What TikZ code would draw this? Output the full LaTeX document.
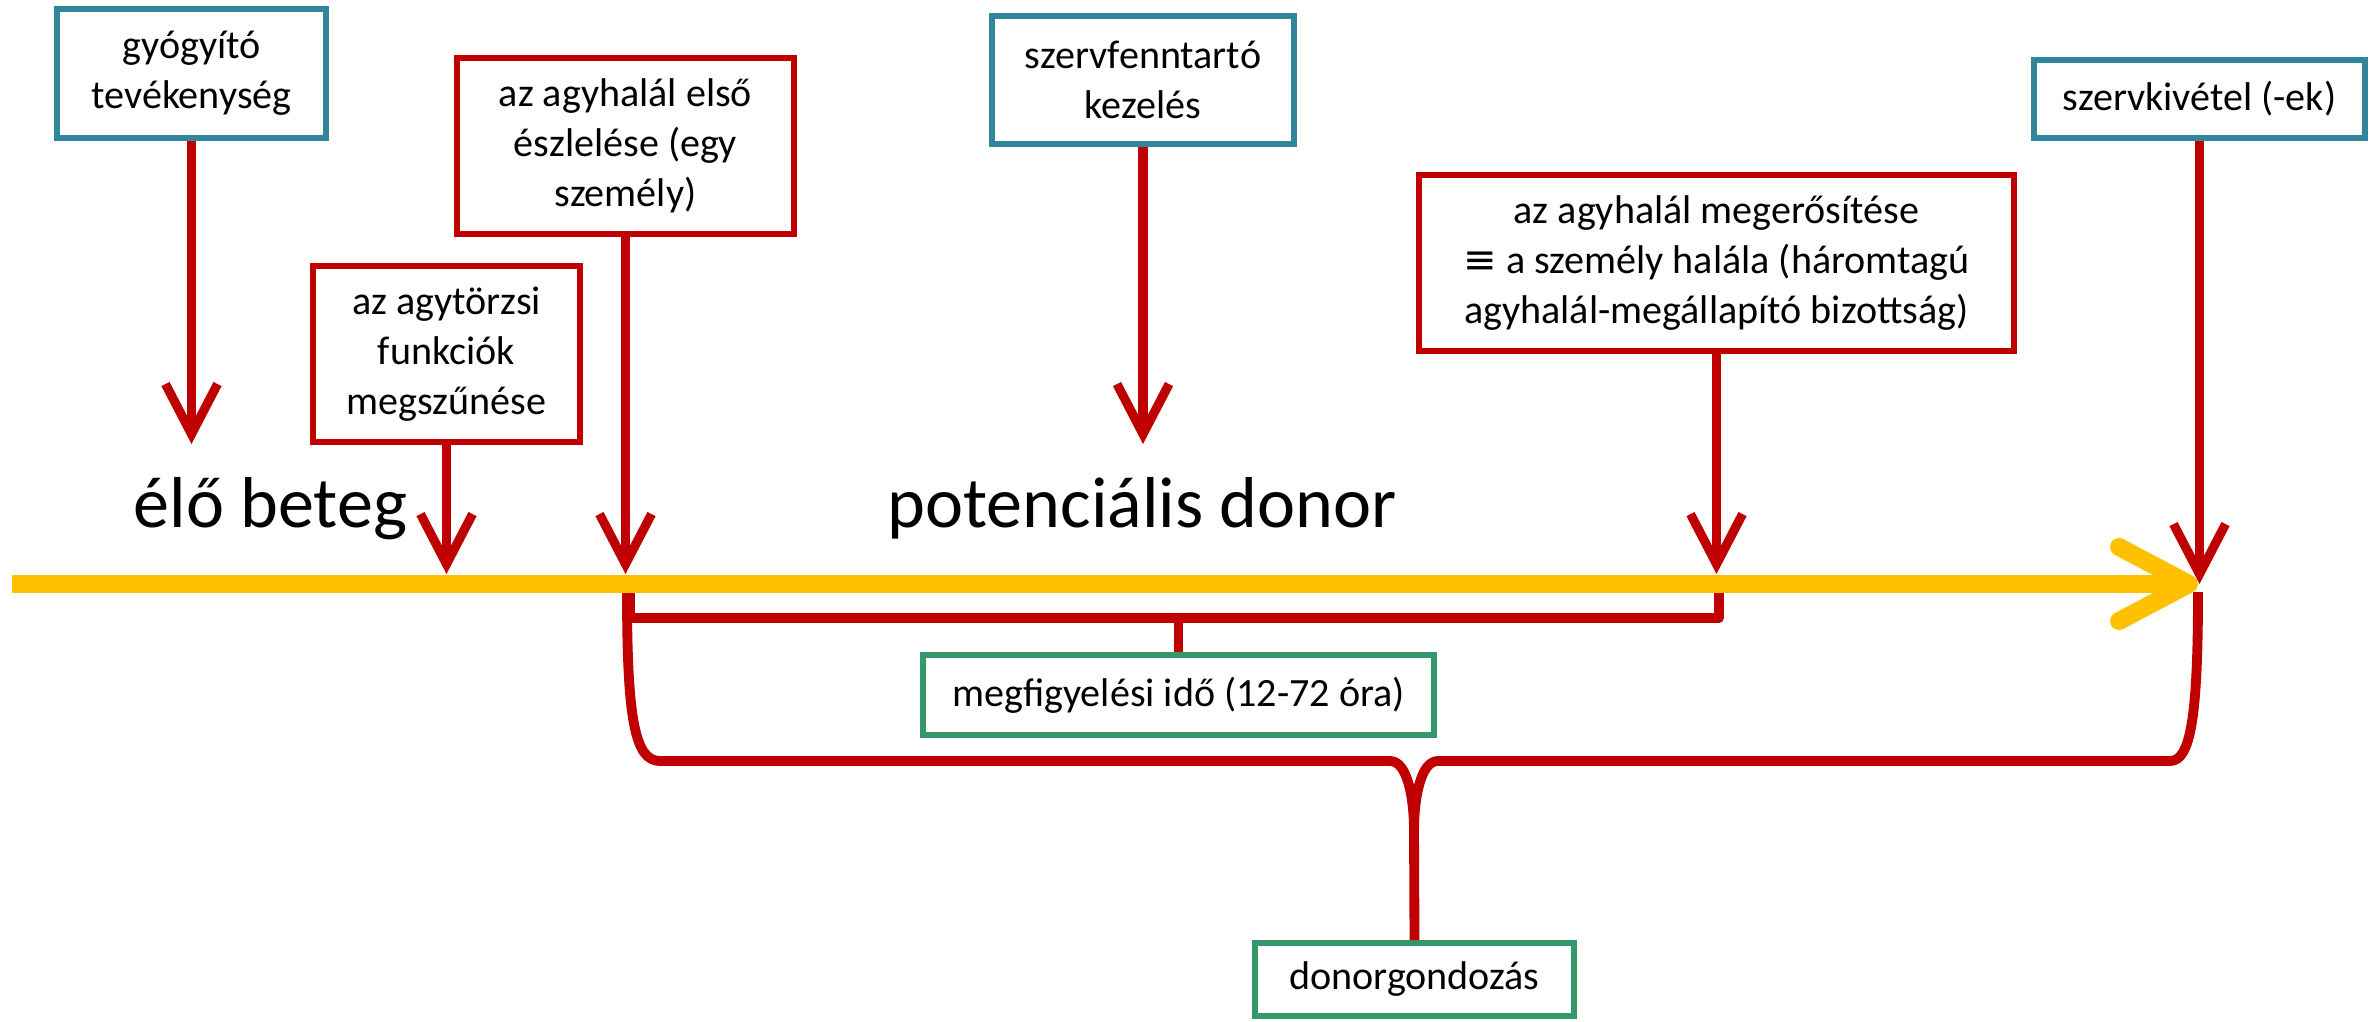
\documentclass[tikz,border=0pt]{standalone}
\usepackage{fontspec}
\setmainfont{Carlito}
\newfontfamily\symfont{DejaVu Sans}
\usetikzlibrary{arrows.meta}
\definecolor{kekes}{HTML}{31869B}
\definecolor{piros}{HTML}{C00000}
\definecolor{zold}{HTML}{35986A}
\definecolor{sarga}{HTML}{FFC000}
\tikzset{
  doboz/.style={draw,line width=1.6pt,align=center,inner sep=0pt,fill=white,font=\fontsize{11.4}{14.2}\selectfont},
  kekdoboz/.style={doboz,draw=kekes},
  pirosdoboz/.style={doboz,draw=piros},
  zolddoboz/.style={doboz,draw=zold},
  nyil/.style={piros,line width=2.6pt,-{Straight Barb[length=5mm,width=5.2mm]}},
  zarojel/.style={piros,line width=2.8pt,line join=round},
  nagybetu/.style={inner sep=0pt,font=\fontsize{20.5}{24}\selectfont}
}
\begin{document}
\begin{tikzpicture}[x=0.01cm,y=-0.01cm]
\useasboundingbox (0,0) rectangle (2379,1021);
\node[kekdoboz,minimum width=2.69cm,minimum height=1.29cm] (gyogyito) at (191.5,73.5) {gyógyító\\tevékenység};
\node[pirosdoboz,minimum width=3.37cm,minimum height=1.76cm] (elso) at (625.5,146) {az agyhalál első\\észlelése (egy\\személy)};
\node[pirosdoboz,minimum width=2.67cm,minimum height=1.76cm] (agytorzs) at (446.5,354) {az agytörzsi\\funkciók\\megszűnése};
\node[kekdoboz,minimum width=3.02cm,minimum height=1.28cm] (fenntarto) at (1143,80) {szervfenntartó\\kezelés};
\node[pirosdoboz,minimum width=5.95cm,minimum height=1.76cm] (megerosites) at (1716.5,263) {az agyhalál megerősítése\\{\symfont ≡} a személy halála (háromtagú\\agyhalál-megállapító bizottság)};
\node[kekdoboz,minimum width=3.31cm,minimum height=0.78cm] (kivetel) at (2199.5,99) {szervkivétel (-ek)};
\node[zolddoboz,minimum width=5.11cm,minimum height=0.80cm] (megfigyeles) at (1178.5,695) {megfigyelési idő (12-72 óra)};
\node[zolddoboz,minimum width=3.19cm,minimum height=0.73cm] (gondozas) at (1414.5,979.5) {donorgondozás};
\node[nagybetu,anchor=base west] (elo) at (133,527) {élő beteg};
\node[nagybetu,anchor=base west] (potencialis) at (887,527) {potenciális donor};
\coordinate (felso) at (0,444);
\coordinate (also) at (0,574);
\coordinate (kezdet) at (12,584);
\coordinate (veg) at (2198,584);
\coordinate (rbal) at (630,618);
\coordinate (rjobb) at (1719,618);
\coordinate (csucs) at (1414,831);
\draw[zarojel] (630,592) -- (rbal) -- (rjobb) -- (1719,592);
\draw[zarojel] (megfigyeles.north) -- (megfigyeles.north |- rbal);
\draw[zarojel] (627,592) .. controls (627,720) and (635,761) .. (660,761) -- (1390,761) .. controls (1408,761) and (1414,800) .. (csucs);
\draw[zarojel] (2198,592) .. controls (2198,720) and (2190,761) .. (2170,761) -- (1438,761) .. controls (1420,761) and (1414,800) .. (csucs);
\draw[zarojel] (csucs) -- (gondozas.north);
\draw[sarga,line width=5.1pt,-{Straight Barb[length=7mm,width=7.4mm,round]}] (kezdet) -- (veg);
\draw[nyil] (gyogyito.south) -- (gyogyito.south |- felso);
\draw[nyil] (fenntarto.south) -- (fenntarto.south |- felso);
\draw[nyil] (agytorzs.south) -- (agytorzs.south |- also);
\draw[nyil] (elso.south) -- (elso.south |- also);
\draw[nyil] (megerosites.south) -- (megerosites.south |- also);
\draw[nyil] (kivetel.south) -- (kivetel.south |- veg);
\end{tikzpicture}
\end{document}
